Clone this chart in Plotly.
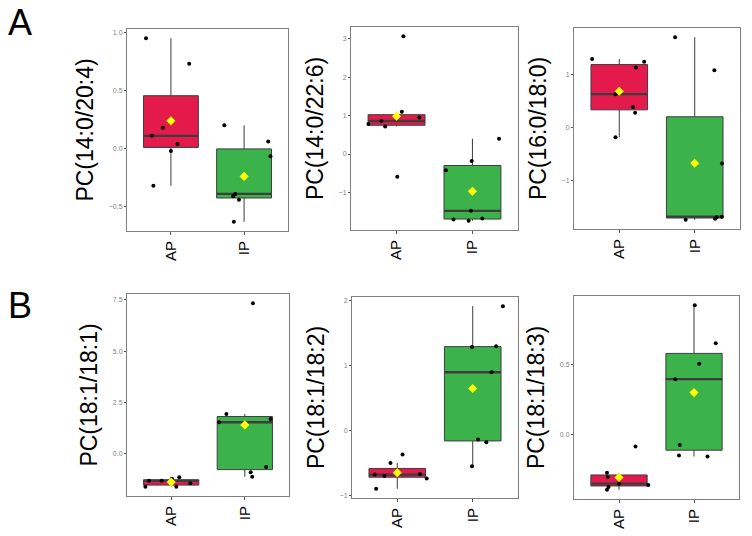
import numpy as np
import plotly.graph_objects as go

# ---------------- data ----------------
groups = ["AP", "IP"]
titles = ["PC(14:0/20:4)", "PC(14:0/22:6)", "PC(16:0/18:0)",
          "PC(18:1/18:1)", "PC(18:1/18:2)", "PC(18:1/18:3)"]
panel_letters = ["A", "B"]

ap_14_0_20_4 = [0.95, 0.73, 0.18, 0.11, 0.04, -0.02, -0.32]
ip_14_0_20_4 = [0.20, -0.41, -0.39, -0.44, -0.63, 0.06, -0.065]
ap_14_0_22_6 = [3.07, 1.10, 0.95, 0.86, 0.78, 0.72, -0.59]
ip_14_0_22_6 = [0.40, -0.18, -0.42, -1.48, -1.71, -1.74, -1.68]
ap_16_0_18_0 = [1.29, 1.24, 1.13, 0.63, 0.39, 0.28, -0.18]
ip_16_0_18_0 = [1.70, 1.08, -0.67, -1.73, -1.71, -1.68, -1.67]
ap_18_1_18_1 = [-1.62, -1.32, -1.33, -1.23, -1.15, -1.62, -1.45]
ip_18_1_18_1 = [7.34, 1.93, 1.53, 1.69, -0.65, -0.91, -1.13]
ap_18_1_18_2 = [-0.37, -0.50, -0.68, -0.70, -0.67, -0.74, -0.90]
ip_18_1_18_2 = [1.92, 1.29, 1.30, 0.90, -0.14, -0.18, -0.55]
ap_18_1_18_3 = [-0.27, -0.30, -0.084, -0.39, -0.37, -0.347, -0.356]
ip_18_1_18_3 = [0.918, 0.649, 0.504, 0.394, -0.072, -0.147, -0.154]

# horizontal jitter of the individual points (category units)
jit_ap_1 = [-0.34, 0.25, -0.11, -0.26, 0.09, 0.00, -0.24]
jit_ip_1 = [-0.27, -0.15, -0.12, -0.07, -0.14, 0.33, 0.36]
jit_ap_2 = [0.09, 0.07, 0.30, -0.20, -0.37, -0.15, 0.01]
jit_ip_2 = [0.35, -0.01, -0.35, -0.02, -0.25, -0.05, 0.13]
jit_ap_3 = [-0.36, 0.33, 0.22, -0.05, 0.18, 0.21, -0.05]
jit_ip_3 = [-0.26, 0.26, 0.36, -0.12, 0.27, 0.29, 0.36]
jit_ap_4 = [-0.35, -0.30, -0.13, 0.01, 0.11, 0.07, 0.26]
jit_ip_4 = [0.11, -0.25, -0.35, 0.35, 0.29, 0.08, 0.10]
jit_ap_5 = [0.07, -0.09, -0.30, -0.17, 0.30, 0.39, -0.28]
jit_ip_5 = [0.40, -0.01, 0.31, 0.25, 0.07, 0.18, -0.01]
jit_ap_6 = [-0.16, -0.15, 0.22, -0.16, -0.14, 0.00, 0.39]
jit_ip_6 = [0.01, 0.29, 0.07, -0.25, -0.19, -0.20, 0.18]

ap_sets = [ap_14_0_20_4, ap_14_0_22_6, ap_16_0_18_0, ap_18_1_18_1, ap_18_1_18_2, ap_18_1_18_3]
ip_sets = [ip_14_0_20_4, ip_14_0_22_6, ip_16_0_18_0, ip_18_1_18_1, ip_18_1_18_2, ip_18_1_18_3]
ap_jit = [jit_ap_1, jit_ap_2, jit_ap_3, jit_ap_4, jit_ap_5, jit_ap_6]
ip_jit = [jit_ip_1, jit_ip_2, jit_ip_3, jit_ip_4, jit_ip_5, jit_ip_6]

# ---------------- styling / layout ----------------
W, H = 752, 536
FONT = "Liberation Sans, Arial, sans-serif"
fills = ["#E31A4B", "#3BB34A"]
box_line = "#3d3d3d"
frame = "#808080"
dticks = [0.5, 1, 1, 2.5, 1, 0.5]
tfmts = [".1f", "d", "d", ".1f", "d", ".1f"]
# panel rectangles in pixels: (left, right, top, bottom)
rects = [(127, 288, 29, 231), (351, 518, 27, 230), (574, 740, 28, 229),
         (127, 289, 294, 496), (352, 518, 297, 498), (574, 739, 296, 499)]
BOXW = 0.75

fig = go.Figure()
layout = {}
for i in range(6):
    s = "" if i == 0 else str(i + 1)
    xa, ya = "x" + s, "y" + s
    for g, (vals, jit) in enumerate([(ap_sets[i], ap_jit[i]), (ip_sets[i], ip_jit[i])]):
        pos = g + 1
        n = len(vals)
        fig.add_trace(go.Box(
            y=vals, x=[pos] * n, width=BOXW, fillcolor=fills[g],
            line=dict(color=box_line, width=1), boxpoints="outliers",
            marker=dict(opacity=0, size=1),
            whiskerwidth=0, quartilemethod="inclusive",
            xaxis=xa, yaxis=ya, showlegend=False, hoverinfo="skip"))
        med = float(np.median(vals))
        fig.add_trace(go.Scatter(
            x=[pos - BOXW / 2, pos + BOXW / 2], y=[med, med], mode="lines",
            line=dict(color=box_line, width=2.3), xaxis=xa, yaxis=ya,
            showlegend=False, hoverinfo="skip"))
        fig.add_trace(go.Scatter(
            x=[pos + j for j in jit], y=vals, mode="markers",
            marker=dict(color="black", size=4), xaxis=xa, yaxis=ya,
            showlegend=False))
        fig.add_trace(go.Scatter(
            x=[pos], y=[float(np.mean(vals))], mode="markers",
            marker=dict(color="#FFFF00", size=7, symbol="diamond"),
            xaxis=xa, yaxis=ya, showlegend=False))

    allv = ap_sets[i] + ip_sets[i]
    lo, hi = min(allv), max(allv)
    pad = 0.05 * (hi - lo)
    l, r, t, b = rects[i]
    layout["xaxis" + s] = dict(
        domain=[l / W, r / W], anchor=ya, range=[0.4, 2.6],
        tickvals=[1, 2], ticktext=groups, tickangle=-90,
        tickfont=dict(size=15, color="black", family=FONT),
        ticks="outside", ticklen=3, tickcolor="#555",
        showline=True, mirror=True, linecolor=frame, linewidth=1,
        showgrid=False, zeroline=False, automargin=False)
    layout["yaxis" + s] = dict(
        domain=[1 - b / H, 1 - t / H], anchor=xa, range=[lo - pad, hi + pad],
        dtick=dticks[i], tick0=0, tickformat=tfmts[i],
        tickfont=dict(size=7, color="#7f7f7f", family=FONT),
        ticks="outside", ticklen=2, tickcolor="#555",
        showline=True, mirror=True, linecolor=frame, linewidth=1,
        showgrid=False, zeroline=False, automargin=False,
        title=dict(text=titles[i], font=dict(size=23, color="black", family=FONT),
                   standoff=8))

annotations = [
    dict(text=panel_letters[0], x=20 / W, y=1 - 23 / H, xref="paper", yref="paper",
         xanchor="center", yanchor="middle", showarrow=False,
         font=dict(size=36, color="black", family=FONT)),
    dict(text=panel_letters[1], x=20 / W, y=1 - 305 / H, xref="paper", yref="paper",
         xanchor="center", yanchor="middle", showarrow=False,
         font=dict(size=36, color="black", family=FONT)),
]

fig.update_layout(
    width=W, height=H, margin=dict(l=0, r=0, t=0, b=0),
    paper_bgcolor="white", plot_bgcolor="white", template="none",
    font=dict(family=FONT), annotations=annotations, showlegend=False,
    **layout)

fig.write_html("out.html", config={"displayModeBar": False},
               post_script="document.body.style.margin='0';document.body.style.padding='0';")
